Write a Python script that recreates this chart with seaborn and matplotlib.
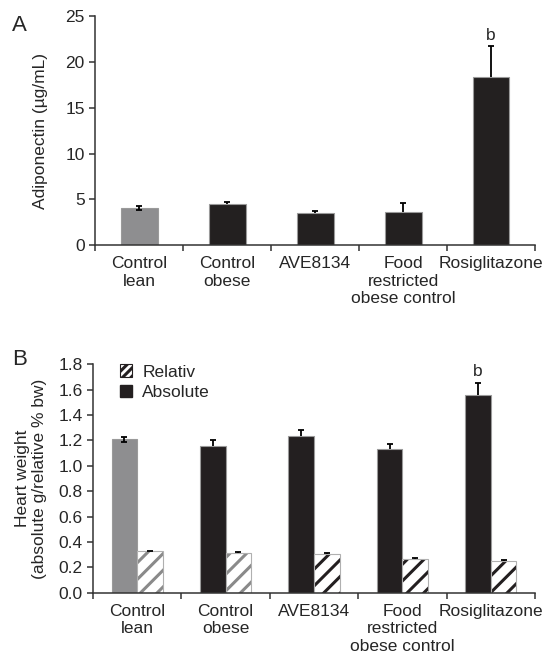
import numpy as np
import pandas as pd
import matplotlib
matplotlib.use("Agg")
import matplotlib.pyplot as plt
import seaborn as sns
from matplotlib.patches import Patch
from matplotlib.ticker import FormatStrFormatter, FixedLocator

# Data
groups = ["Control\nlean", "Control\nobese", "AVE8134",
          "Food\nrestricted\nobese control", "Rosiglitazone"]
adiponectin = [4.05, 4.45, 3.55, 3.6, 18.4]
adiponectin_err = [0.2, 0.25, 0.15, 0.95, 3.3]
heart_abs = [1.21, 1.155, 1.235, 1.13, 1.555]
heart_abs_err = [0.02, 0.045, 0.045, 0.04, 0.095]
heart_rel = [0.325, 0.31, 0.305, 0.268, 0.25]
heart_rel_err = [0.006, 0.008, 0.008, 0.005, 0.005]

GRAY = "#8e8e90"
BLACK = "#231f20"
bar_colors = [GRAY, BLACK, BLACK, BLACK, BLACK]
hatch_colors = ["#8a8a8a", "#8a8a8a", BLACK, BLACK, BLACK]

sns.set_theme(style="ticks")
plt.rcParams["font.family"] = ["Liberation Sans", "DejaVu Sans"]
plt.rcParams["hatch.linewidth"] = 2.2
FS = 12.5


def add_errors(ax, x, y, err, both):
    # whiskers both ways on light bars, top only on dark/hatched bars
    x, y, err, both = map(np.asarray, (x, y, err, both))
    kw = dict(fmt="none", ecolor="black", elinewidth=1.3,
              capsize=2.5, capthick=1.3)
    if both.any():
        ax.errorbar(x[both], y[both], yerr=err[both], **kw)
    if (~both).any():
        _, caps, _ = ax.errorbar(x[~both], y[~both],
                                 yerr=[np.zeros((~both).sum()), err[~both]],
                                 **kw)
        caps[0].set_visible(False)


fig = plt.figure(figsize=(5.47, 6.68), dpi=100)
axA = fig.add_axes([0.174, 0.633, 0.804, 0.343])
axB = fig.add_axes([0.170, 0.1127, 0.808, 0.342])

# ---- Panel A
dfA = pd.DataFrame({"group": groups, "value": adiponectin})
sns.barplot(data=dfA, x="group", y="value", hue="group", palette=bar_colors,
            legend=False, width=0.42, edgecolor="#9a9a9a", linewidth=0.8,
            ax=axA)
xs = np.arange(len(groups))
add_errors(axA, xs, adiponectin, adiponectin_err,
           [c == GRAY for c in bar_colors])
axA.text(4, adiponectin[4] + adiponectin_err[4] + 0.4, "b",
         ha="center", va="bottom", fontsize=FS)
axA.set_ylim(0, 25)
axA.set_yticks([0, 5, 10, 15, 20, 25])
axA.set_ylabel("Adiponectin (µg/mL)", fontsize=FS)
axA.yaxis.set_label_coords(-0.108, 0.5)

# ---- Panel B
dfB = pd.DataFrame({
    "group": groups * 2,
    "value": heart_abs + heart_rel,
    "measure": ["Absolute"] * 5 + ["Relativ"] * 5,
})
sns.barplot(data=dfB, x="group", y="value", hue="measure",
            hue_order=["Absolute", "Relativ"], palette=[BLACK, "white"],
            width=0.58, dodge=True, legend=False, ax=axB)

abs_bars = axB.containers[0]
rel_bars = axB.containers[1]
for p, c in zip(abs_bars, bar_colors):
    p.set_facecolor(c)
    p.set_edgecolor("#9a9a9a")
    p.set_linewidth(0.8)
for p, hc in zip(rel_bars, hatch_colors):
    p.set_facecolor("white")
    p.set_hatch("//")
    p.set_edgecolor(hc)
    p.set_linewidth(0)
# light outline over the hatched bars
rel_x = [p.get_x() + p.get_width() / 2 for p in rel_bars]
rel_w = rel_bars[0].get_width()
axB.bar(rel_x, heart_rel, width=rel_w, fill=False,
        edgecolor="#b0b0b0", linewidth=0.8)

abs_x = [p.get_x() + p.get_width() / 2 for p in abs_bars]
add_errors(axB, abs_x, heart_abs, heart_abs_err,
           [c == GRAY for c in bar_colors])
add_errors(axB, rel_x, heart_rel, heart_rel_err, [False] * 5)
axB.text(abs_x[4], heart_abs[4] + heart_abs_err[4] + 0.03, "b",
         ha="center", va="bottom", fontsize=FS)
axB.set_ylim(0, 1.8)
axB.set_yticks(np.arange(0, 1.81, 0.2))
axB.yaxis.set_major_formatter(FormatStrFormatter("%.1f"))
axB.set_ylabel("Heart weight\n(absolute g/relative % bw)", fontsize=FS,
               linespacing=1.15)
axB.yaxis.set_label_coords(-0.104, 0.5)

handles = [Patch(facecolor="white", edgecolor=BLACK, hatch="////",
                 linewidth=0.8, label="Relativ"),
           Patch(facecolor=BLACK, edgecolor=BLACK, label="Absolute")]
axB.legend(handles=handles, loc="upper left", bbox_to_anchor=(0.045, 1.03),
           frameon=False, fontsize=FS, handlelength=0.7, handleheight=0.7,
           handletextpad=0.6, labelspacing=0.3, borderaxespad=0)

# ---- common styling
for ax in (axA, axB):
    ax.set_xlabel("")
    ax.set_xlim(-0.5, 4.5)
    for s in ("top", "right"):
        ax.spines[s].set_visible(False)
    for s in ("left", "bottom"):
        ax.spines[s].set_color("#333333")
        ax.spines[s].set_linewidth(1.1)
    ax.tick_params(axis="y", labelsize=FS, length=4, width=1.1,
                   color="#333333", pad=3.5)
    ax.tick_params(axis="x", which="major", labelsize=FS, length=0, pad=8)
    ax.xaxis.set_minor_locator(FixedLocator(np.arange(-0.5, 4.6, 1.0)))
    ax.tick_params(axis="x", which="minor", length=4, width=1.1,
                   color="#333333")
    for lab in ax.get_xticklabels():
        lab.set_linespacing(1.2)

fig.text(0.022, 0.978, "A", fontsize=16, va="top", ha="left")
fig.text(0.022, 0.478, "B", fontsize=16, va="top", ha="left")

fig.savefig("out.png", dpi=100)
